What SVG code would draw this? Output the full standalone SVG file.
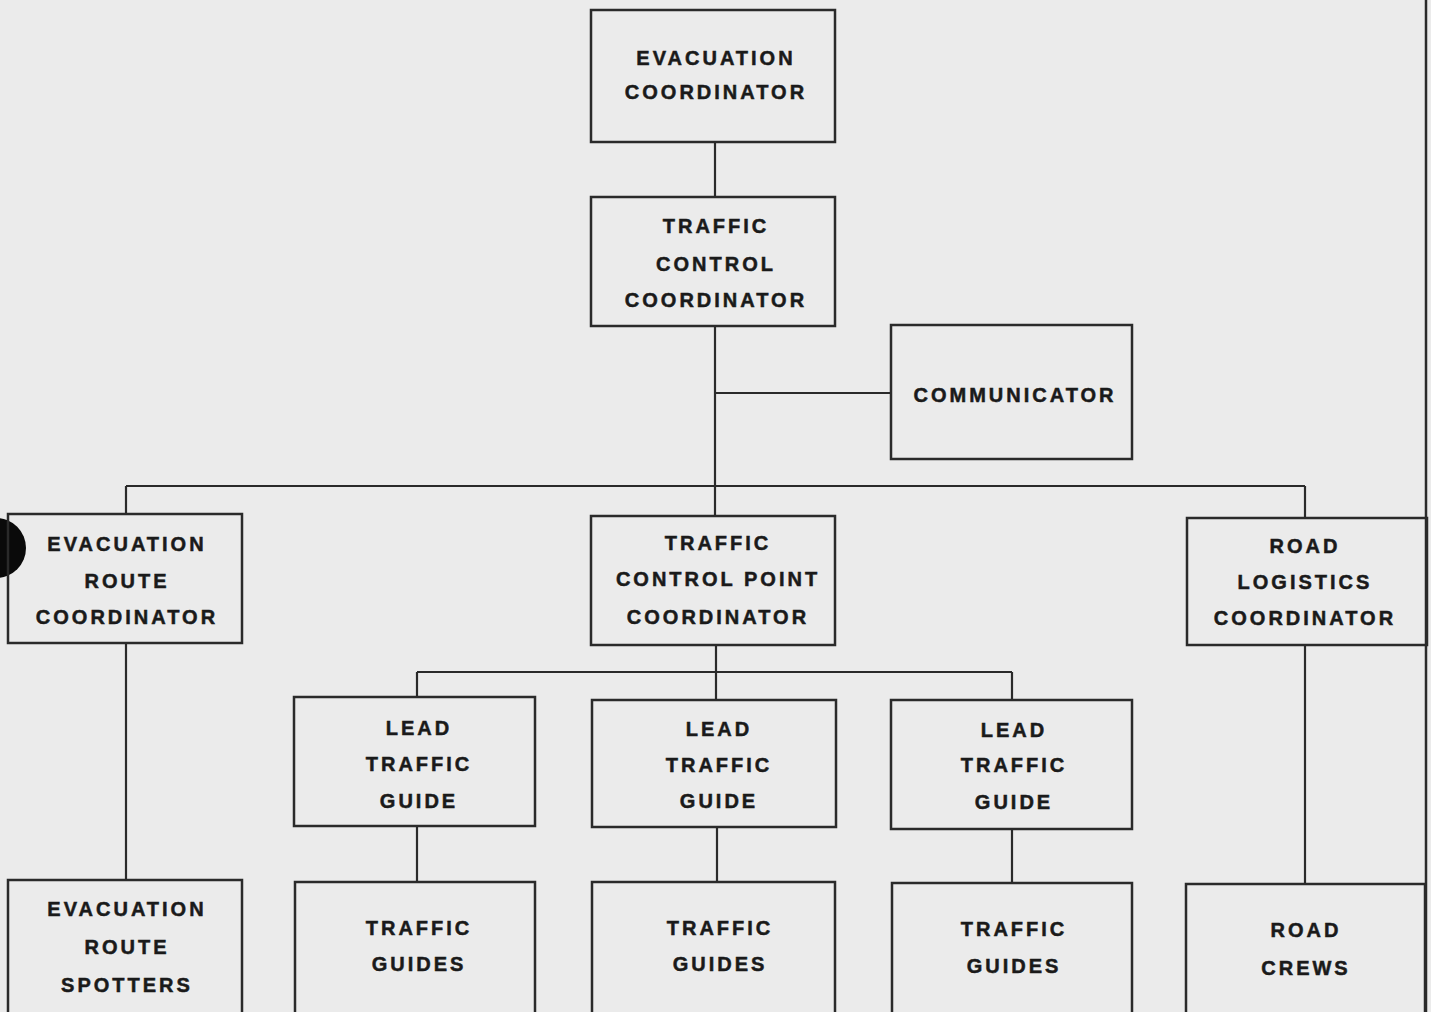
<svg xmlns="http://www.w3.org/2000/svg" width="1431" height="1012" viewBox="0 0 1431 1012">
<style>
.bx{fill:none;stroke:#2a2a2a;stroke-width:2.5}
.ln{fill:none;stroke:#2a2a2a;stroke-width:2.2}
text{font-family:"Liberation Sans",Arial,sans-serif;font-weight:bold;font-size:20px;letter-spacing:3px;fill:#1a1a1a;stroke:#1a1a1a;stroke-width:0.5;text-anchor:middle}
</style>
<rect width="1431" height="1012" fill="#ebebeb"/>
<circle cx="-4" cy="548" r="30" fill="#0a0a0a"/>
<line x1="1426" y1="0" x2="1426" y2="1012" stroke="#2a2a2a" stroke-width="2.5"/>
<g id="connectors">
<path class="ln" d="M715 142V197M715 326V516M715 393H891M126 486H1305M126 486V514M1305 486V518M716 645V700M417 672H1012M417 672V697M1012 672V700M417 826V882M717 827V882M1012 829V883M126 643V880M1305 645V884"/>
</g>
<g id="evac-coord"><rect class="bx" x="591" y="10" width="244" height="132"/><text x="716" y="65">EVACUATION</text><text x="716" y="99">COORDINATOR</text></g>
<g id="traffic-control-coord"><rect class="bx" x="591" y="197" width="244" height="129"/><text x="716" y="233">TRAFFIC</text><text x="716" y="271">CONTROL</text><text x="716" y="307">COORDINATOR</text></g>
<g id="communicator"><rect class="bx" x="891" y="325" width="241" height="134"/><text x="1015" y="402">COMMUNICATOR</text></g>
<g id="evac-route-coord"><rect class="bx" x="8" y="514" width="234" height="129"/><text x="127" y="551">EVACUATION</text><text x="127" y="588">ROUTE</text><text x="127" y="624">COORDINATOR</text></g>
<g id="tcp-coord"><rect class="bx" x="591" y="516" width="244" height="129"/><text x="718" y="550">TRAFFIC</text><text x="718" y="586">CONTROL POINT</text><text x="718" y="624">COORDINATOR</text></g>
<g id="road-logistics-coord"><rect class="bx" x="1187" y="518" width="240" height="127"/><text x="1305" y="553">ROAD</text><text x="1305" y="589">LOGISTICS</text><text x="1305" y="625">COORDINATOR</text></g>
<g id="lead-1"><rect class="bx" x="294" y="697" width="241" height="129"/><text x="419" y="735">LEAD</text><text x="419" y="771">TRAFFIC</text><text x="419" y="808">GUIDE</text></g>
<g id="lead-2"><rect class="bx" x="592" y="700" width="244" height="127"/><text x="719" y="736">LEAD</text><text x="719" y="772">TRAFFIC</text><text x="719" y="808">GUIDE</text></g>
<g id="lead-3"><rect class="bx" x="891" y="700" width="241" height="129"/><text x="1014" y="737">LEAD</text><text x="1014" y="772">TRAFFIC</text><text x="1014" y="809">GUIDE</text></g>
<g id="route-spotters"><rect class="bx" x="8" y="880" width="234" height="140"/><text x="127" y="916">EVACUATION</text><text x="127" y="954">ROUTE</text><text x="127" y="992">SPOTTERS</text></g>
<g id="guides-1"><rect class="bx" x="295" y="882" width="240" height="140"/><text x="419" y="935">TRAFFIC</text><text x="419" y="971">GUIDES</text></g>
<g id="guides-2"><rect class="bx" x="592" y="882" width="243" height="140"/><text x="720" y="935">TRAFFIC</text><text x="720" y="971">GUIDES</text></g>
<g id="guides-3"><rect class="bx" x="892" y="883" width="240" height="140"/><text x="1014" y="936">TRAFFIC</text><text x="1014" y="973">GUIDES</text></g>
<g id="road-crews"><rect class="bx" x="1186" y="884" width="239" height="140"/><text x="1306" y="937">ROAD</text><text x="1306" y="975">CREWS</text></g>
</svg>
